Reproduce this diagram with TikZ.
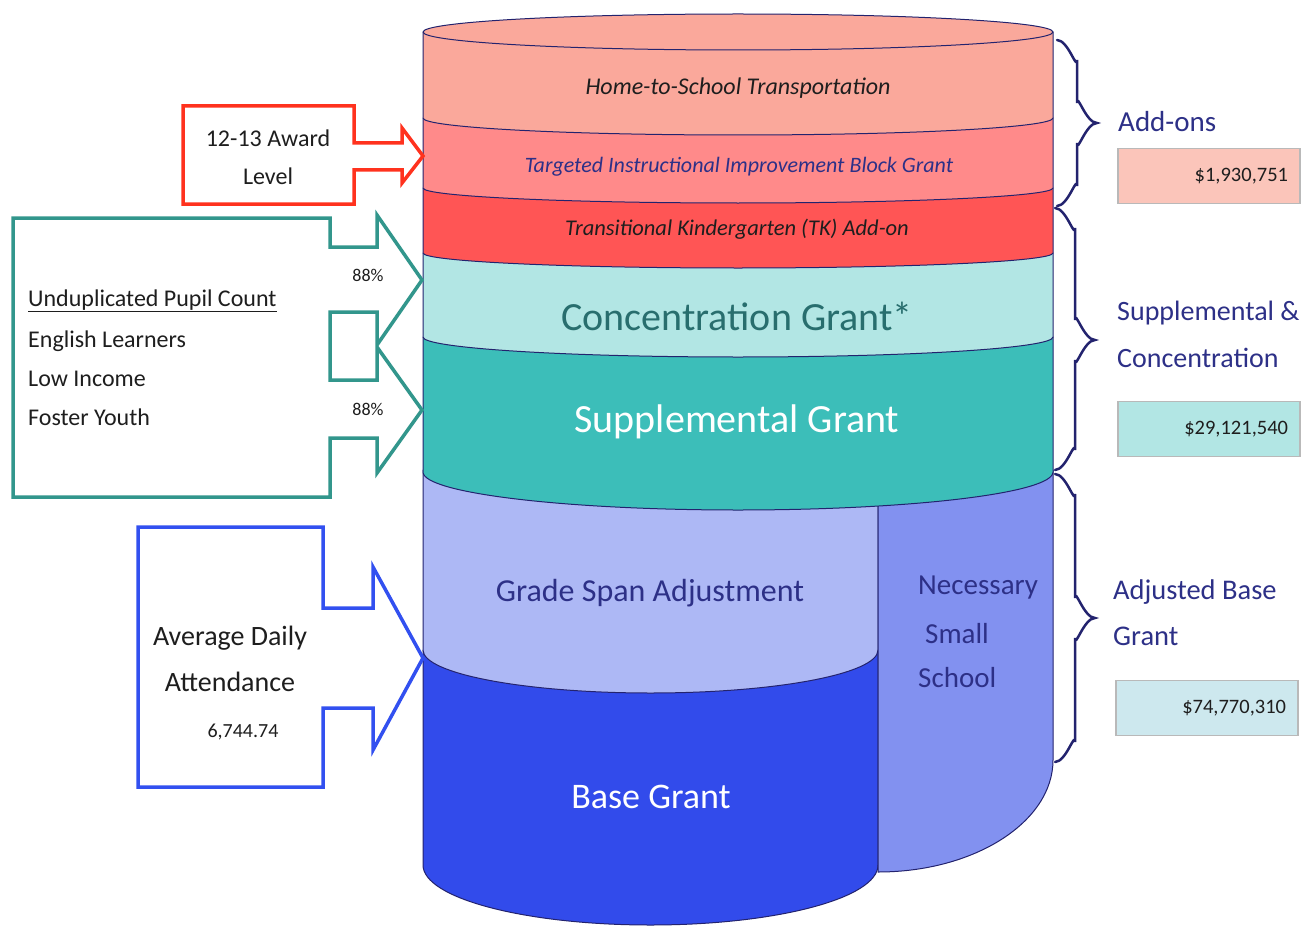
\documentclass[tikz,border=0pt]{standalone}
\usepackage{fontspec}
\setmainfont{Carlito}
\usetikzlibrary{calc}
\definecolor{navy}{RGB}{35,35,110}
\definecolor{htsC}{RGB}{250,168,155}
\definecolor{tiibC}{RGB}{255,138,138}
\definecolor{tkC}{RGB}{255,85,85}
\definecolor{concC}{RGB}{178,230,228}
\definecolor{suppC}{RGB}{60,190,185}
\definecolor{gsaC}{RGB}{173,184,245}
\definecolor{baseC}{RGB}{50,75,235}
\definecolor{nssC}{RGB}{130,145,240}
\definecolor{redA}{RGB}{255,50,30}
\definecolor{tealA}{RGB}{50,150,140}
\definecolor{blueA}{RGB}{50,80,240}
\definecolor{txtnavy}{RGB}{45,48,135}
\definecolor{conctxt}{RGB}{40,110,110}
\definecolor{boxA}{RGB}{251,197,186}
\definecolor{boxB}{RGB}{178,230,228}
\definecolor{boxC}{RGB}{205,232,238}
\definecolor{boxedge}{RGB}{185,185,185}
\definecolor{dtext}{RGB}{30,30,30}
\newcommand\fsz[1]{\fontsize{#1}{#1}\selectfont}
\newcommand\mybrace[4]{%
 \draw[bracestyle] (#1,#2) to[out=0,in=-90] ({#1+20},{#2+20}) -- ({#1+20},{#3-20})
   to[out=90,in=180] ({#1+40},#3) to[out=180,in=-90] ({#1+20},{#3+20})
   -- ({#1+20},{#4-20}) to[out=90,in=0] (#1,#4);}
\begin{document}
\begin{tikzpicture}[x=1pt,y=-1pt,
  band/.style={fill=#1,draw=navy,line width=1pt,line join=round},
  shapeline/.style={draw=#1,line width=3.5pt,line join=miter,fill=white},
  bracestyle/.style={draw=navy,line width=2.5pt,line cap=round},
  valbox/.style={draw=boxedge,line width=1.5pt,fill=#1,minimum width=182pt,minimum height=55pt,
     text width=158pt,align=right,inner xsep=12pt,inner ysep=0pt,font=\fsz{20.5},text=dtext},
  rlabel/.style={anchor=west,text=txtnavy,font=\fsz{29},inner sep=0pt},
  ltext/.style={anchor=west,text=dtext,font=\fsz{24},inner sep=0pt}]
\useasboundingbox (0,0) rectangle (1305,928);
% ---- cylinder, bottom first
\draw[band=baseC] (423,650) -- (423,865) arc[start angle=180,end angle=0,x radius=227.5,y radius=60] -- (878,650) -- cycle;
\draw[band=gsaC] (423,470) -- (423,650) arc[start angle=180,end angle=0,x radius=227.5,y radius=43] -- (878,470) -- cycle;
\draw[band=nssC] (878,470) -- (878,872) arc[start angle=90,end angle=0,x radius=175,y radius=112] -- (1053,470) -- cycle;
\draw[band=suppC] (423,337) -- (423,472) arc[start angle=180,end angle=0,x radius=315,y radius=38] -- (1053,337) -- cycle;
\draw[band=concC] (423,253) -- (423,337) arc[start angle=180,end angle=0,x radius=315,y radius=20] -- (1053,253) -- cycle;
\draw[band=tkC] (423,188) -- (423,253) arc[start angle=180,end angle=0,x radius=315,y radius=15] -- (1053,188) -- cycle;
\draw[band=tiibC] (423,118) -- (423,188) arc[start angle=180,end angle=0,x radius=315,y radius=15] -- (1053,118) -- cycle;
\draw[band=htsC] (423,32) -- (423,118) arc[start angle=180,end angle=0,x radius=315,y radius=17] -- (1053,32) -- cycle;
\draw[band=htsC] (738,32) ellipse[x radius=315,y radius=18];
% ---- cylinder texts
\node[font=\fsz{24}\itshape,text=dtext] (hts) at (738,88) {Home-to-School Transportation};
\node[font=\fsz{22}\itshape,text=txtnavy] (tiib) at (739,167) {Targeted Instructional Improvement Block Grant};
\node[font=\fsz{22.5}\itshape,text=dtext] (tk) at (737,229) {Transitional Kindergarten (TK) Add-on};
\node[font=\fsz{40},text=conctxt] (conc) at (737,316) {Concentration Grant*};
\node[font=\fsz{40},text=white] (supp) at (737,422) {Supplemental Grant};
\node[font=\fsz{32},text=txtnavy] (gsa) at (650,593) {Grade Span Adjustment};
\node[font=\fsz{36},text=white] (base) at (651,797) {Base Grant};
\node[anchor=west,font=\fsz{29},text=txtnavy,inner sep=0pt] (nss1) at (918,588) {Necessary};
\node[anchor=west,font=\fsz{29},text=txtnavy,inner sep=0pt] (nss2) at (925,634) {Small};
\node[anchor=west,font=\fsz{29},text=txtnavy,inner sep=0pt] (nss3) at (918,678) {School};
% ---- braces
\mybrace{1057}{40}{123}{206}
\mybrace{1055}{208}{340}{470}
\mybrace{1055}{474}{618}{762}
% ---- right labels
\node[rlabel] (addons) at (1118,122) {Add-ons};
\node[valbox=boxA] (v1) at (1209,176) {\$1,930,751};
\node[rlabel,font=\fsz{28}] (sc1) at (1117,313) {Supplemental \&};
\node[rlabel,font=\fsz{28}] (sc2) at (1117,358) {Concentration};
\node[valbox=boxB] (v2) at (1209,429) {\$29,121,540};
\node[rlabel,font=\fsz{28.5}] (ab1) at (1113,592) {Adjusted Base};
\node[rlabel,font=\fsz{28.5}] (ab2) at (1113,636) {Grant};
\node[valbox=boxC] (v3) at (1207,708) {\$74,770,310};
% ---- red box arrow
\draw[shapeline=redA] (183,106) -- (354,106) -- (354,143) -- (402,143) -- (402,128) -- (423,156)
  -- (402,183) -- (402,170) -- (354,170) -- (354,204) -- (183,204) -- cycle;
\node[font=\fsz{24},text=dtext] (award1) at (268,138) {12-13 Award};
\node[font=\fsz{24},text=dtext] (award2) at (268,176) {Level};
% ---- teal box arrows
\draw[shapeline=tealA] (13,218) -- (330,218) -- (330,247) -- (377,247) -- (377,215) -- (422,280)
  -- (377,345) -- (377,312) -- (330,312) -- (330,380) -- (377,380) -- (377,347) -- (422,410)
  -- (377,473) -- (377,438) -- (330,438) -- (330,497) -- (13,497) -- cycle;
\node[font=\fsz{18},text=dtext] (p1) at (368,275) {88\%};
\node[font=\fsz{18},text=dtext] (p2) at (368,409) {88\%};
\node[ltext] (u1) at (28,301) {\underline{Unduplicated Pupil Count}};
\node[ltext] (u2) at (28,341) {English Learners};
\node[ltext] (u3) at (28,379) {Low Income};
\node[ltext] (u4) at (28,417) {Foster Youth};
% ---- blue box arrow
\draw[shapeline=blueA] (138,527) -- (323,527) -- (323,608) -- (373,608) -- (373,567) -- (423,658)
  -- (373,750) -- (373,708) -- (323,708) -- (323,787) -- (138,787) -- cycle;
\node[font=\fsz{28},text=dtext] (ada1) at (230,638) {Average Daily};
\node[font=\fsz{28},text=dtext] (ada2) at (230,682) {Attendance};
\node[font=\fsz{20},text=dtext] (ada3) at (243,732) {6,744.74};
\end{tikzpicture}
\end{document}
